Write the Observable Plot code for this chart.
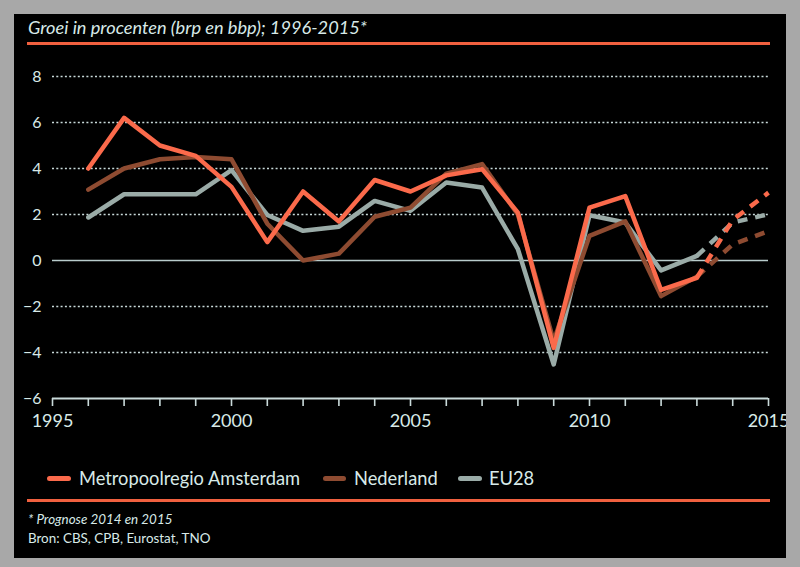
<!DOCTYPE html>
<html>
<head>
<meta charset="utf-8">
<script src="https://cdn.jsdelivr.net/npm/d3@7"></script>
<script src="https://cdn.jsdelivr.net/npm/@observablehq/plot@0.6"></script>
<style>
  html, body { margin: 0; padding: 0; }
  body { width: 800px; height: 567px; background: #a8a8a8; position: relative; overflow: hidden; font-family: Lato, "Open Sans", sans-serif; color: #d8eae8; }
  #panel { position: absolute; left: 14px; top: 14px; width: 772px; height: 544px; background: #000; }
  .abs { position: absolute; white-space: nowrap; line-height: 1; }
  #title { left: 28px; top: 18px; font-size: 18.2px; font-style: italic; }
  .rule { position: absolute; left: 27px; width: 743px; height: 3px; background: #f0603f; }
  #chart { position: absolute; left: 0; top: 0; width: 786px; height: 460px; overflow: hidden; }
  #chart svg { max-width: none !important; }
  .leg { position: absolute; top: 469px; font-size: 18.3px; line-height: 1; }
  .sw { position: absolute; height: 5px; border-radius: 3px; top: 476px; }
  #note { left: 28px; top: 513px; font-size: 13.4px; font-style: italic; }
  #src { left: 28px; top: 532px; font-size: 13.4px; }
</style>
</head>
<body>
<div id="panel"></div>
<div id="title" class="abs">Groei in procenten (brp en bbp); 1996-2015*</div>
<div class="rule" style="top:42px"></div>
<div id="chart"></div>
<div class="sw" style="left:47px;width:24px;background:#fb6a4b"></div>
<div class="leg" style="left:79px">Metropoolregio Amsterdam</div>
<div class="sw" style="left:323px;width:23px;background:#8e4b31"></div>
<div class="leg" style="left:354px">Nederland</div>
<div class="sw" style="left:458px;width:24px;background:#9aaba7"></div>
<div class="leg" style="left:489px">EU28</div>
<div class="rule" style="top:499px"></div>
<div id="note" class="abs">* Prognose 2014 en 2015</div>
<div id="src" class="abs">Bron: CBS, CPB, Eurostat, TNO</div>
<script>
const years = [1996,1997,1998,1999,2000,2001,2002,2003,2004,2005,2006,2007,2008,2009,2010,2011,2012,2013,2014,2015];
const amsterdam = [4.0,6.2,5.0,4.55,3.2,0.8,3.0,1.7,3.5,3.0,3.7,3.97,2.08,-3.8,2.3,2.8,-1.28,-0.75,1.76,2.95];
const nederland = [3.08,4.0,4.4,4.5,4.4,1.6,0.0,0.3,1.9,2.3,3.78,4.19,2.0,-3.5,1.07,1.7,-1.55,-0.7,0.7,1.28];
const eu28 = [1.87,2.88,2.88,2.88,3.93,1.98,1.29,1.47,2.59,2.16,3.39,3.17,0.49,-4.52,1.97,1.65,-0.43,0.2,1.65,2.01];
const lastActual = 2013;
const gridValues = [8,6,4,2,-2,-4];
const yTicks = [-6,-4,-2,0,2,4,6,8];
const xTicks = d3.range(1995, 2016);

const colors = {Amsterdam: "#fb6a4b", Nederland: "#8e4b31", EU28: "#9aaba7"};
const series = [["EU28", eu28], ["Nederland", nederland], ["Amsterdam", amsterdam]];
const rows = s => years.map((y, i) => ({year: y, value: s[1][i], name: s[0]}));

const marks = [
  Plot.ruleY(gridValues, {stroke: "#c9dada", strokeWidth: 1.6, strokeDasharray: "2,2.3"}),
  Plot.ruleY([0], {stroke: "#b9cccc", strokeWidth: 1.6}),
  Plot.axisY({ticks: yTicks, tickSize: 0, tickPadding: 11, fontSize: 16, fill: "#d8eae8", label: null}),
  Plot.axisX({ticks: xTicks, tickSize: 8, tickPadding: 8, fontSize: 18, stroke: "#c9dada", strokeWidth: 1.6, fill: "#d8eae8", label: null,
    tickFormat: d => d % 5 === 0 ? String(d) : ""}),
  Plot.ruleY([-6], {stroke: "#c9dada", strokeWidth: 1.8})
];
for (const s of series) {
  const r = rows(s);
  marks.push(Plot.line(r.filter(d => d.year <= lastActual), {x: "year", y: "value", stroke: colors[s[0]], strokeWidth: 4.5, strokeLinejoin: "round"}));
}
for (const s of series) {
  const r = rows(s);
  marks.push(Plot.line(r.filter(d => d.year >= lastActual), {x: "year", y: "value", stroke: colors[s[0]], strokeWidth: 4.5, strokeDasharray: "10,8", strokeLinecap: "butt"}));
}

const chart = Plot.plot({
  width: 800,
  height: 440,
  marginLeft: 52,
  marginRight: 32,
  marginTop: 76,
  marginBottom: 42,
  style: {background: "transparent", fontFamily: "Lato, sans-serif", color: "#d8eae8", overflow: "visible", maxWidth: "none"},
  x: {domain: [1995, 2015], label: null},
  y: {domain: [-6, 8], label: null},
  marks
});
document.getElementById("chart").appendChild(chart);
</script>
</body>
</html>
